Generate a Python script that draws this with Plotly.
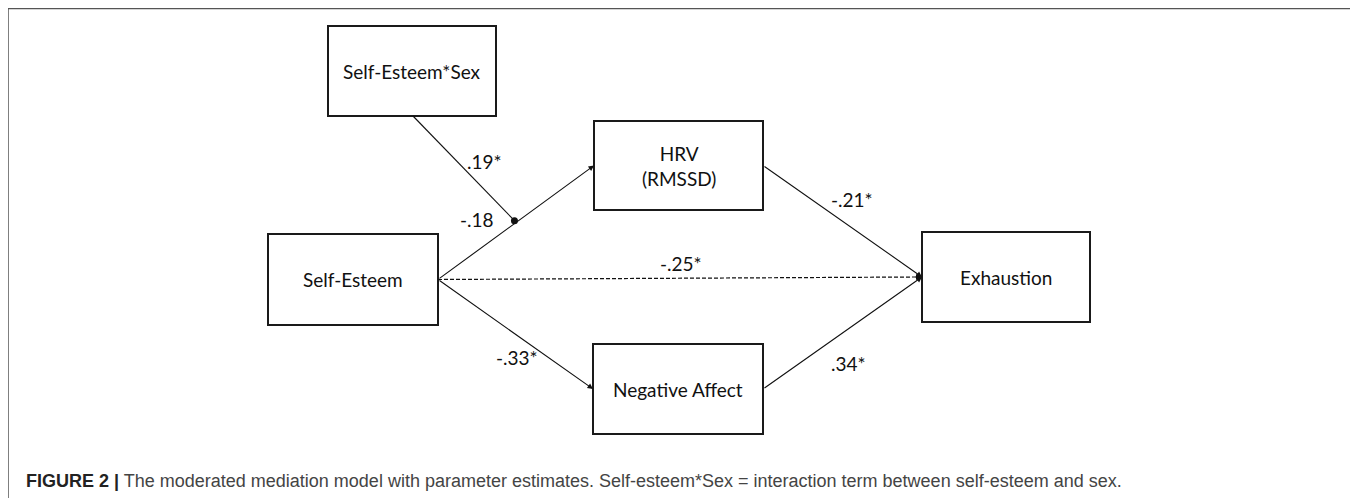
import plotly.graph_objects as go

# ---- data ----
node_ids = ["SES", "SE", "HRV", "NA", "EX"]
node_labels = ["Self-Esteem*Sex", "Self-Esteem", "HRV<br>(RMSSD)", "Negative Affect", "Exhaustion"]
edge_from = ["SE", "SE", "SE", "HRV", "NA"]
edge_to = ["HRV", "NA", "EX", "EX", "EX"]
edge_coef = ["-.18", "-.33*", "-.25*", "-.21*", ".34*"]
edge_dashed = [False, False, True, False, False]
moderator_coef = ".19*"
caption_bold = "FIGURE 2 |"
caption_text = (" The moderated mediation model with parameter estimates. "
                "Self-esteem*Sex = interaction term between self-esteem and sex.")

# ---- layout geometry (pixels of the page) ----
W, H = 1358, 498
OFF = 8  # page body margin
boxes = {
    "SES": (328, 496, 26, 116),
    "SE": (268, 438, 234, 325),
    "HRV": (594, 763, 121, 210),
    "NA": (593, 763, 344, 434),
    "EX": (922, 1090, 232, 322),
}
label_pos = {
    ("SE", "HRV"): (477, 219),
    ("SE", "NA"): (517, 357),
    ("SE", "EX"): (681, 263),
    ("HRV", "EX"): (852, 199),
    ("NA", "EX"): (848, 363),
}
mod_label_pos = (484, 161)
mod_t = 0.49  # where the moderator hits the SE->HRV path

def anchor(nid, side):
    x0, x1, y0, y1 = boxes[nid]
    if side == "right":
        return x1, (y0 + y1) / 2
    if side == "left":
        return x0, (y0 + y1) / 2
    if side == "bottom":
        return (x0 + x1) / 2, y1

shapes = []
annotations = []
box_font = dict(family="Lato, Carlito, Calibri, sans-serif", size=19, color="#111")
coef_font = dict(family="Lato, Carlito, Calibri, sans-serif", size=19, color="#111")

# frame
shapes.append(dict(type="rect", xref="x", yref="y", x0=8, x1=1355, y0=8.5, y1=530,
                   line=dict(color="#555", width=1.5), layer="below"))

for nid, lab in zip(node_ids, node_labels):
    x0, x1, y0, y1 = boxes[nid]
    shapes.append(dict(type="rect", xref="x", yref="y", x0=x0, x1=x1, y0=y0, y1=y1,
                       line=dict(color="#1a1a1a", width=2), fillcolor="white", layer="above"))
    annotations.append(dict(x=(x0 + x1) / 2, y=(y0 + y1) / 2, xref="x", yref="y",
                            text=lab, showarrow=False, font=box_font,
                            xanchor="center", yanchor="middle"))

for f, t, c, d in zip(edge_from, edge_to, edge_coef, edge_dashed):
    sx, sy = anchor(f, "right")
    ex, ey = anchor(t, "left")
    if d:
        shapes.append(dict(type="line", xref="x", yref="y", x0=sx, y0=sy, x1=ex - 6, y1=ey,
                           line=dict(color="#111", width=1.2, dash="4px,2px")))
        annotations.append(dict(x=ex, y=ey, ax=ex - 8, ay=ey, xref="x", yref="y",
                                axref="x", ayref="y", text="", showarrow=True,
                                arrowhead=2, arrowsize=1, arrowwidth=1.2, arrowcolor="#111",
                                standoff=0, startstandoff=0))
    else:
        annotations.append(dict(x=ex, y=ey, ax=sx, ay=sy, xref="x", yref="y",
                                axref="x", ayref="y", text="", showarrow=True,
                                arrowhead=2, arrowsize=1, arrowwidth=1.1, arrowcolor="#111",
                                standoff=0, startstandoff=0))
    lx, ly = label_pos[(f, t)]
    annotations.append(dict(x=lx, y=ly, xref="x", yref="y", text=c, showarrow=False,
                            font=coef_font, xanchor="center", yanchor="middle"))

# moderator path
hx0, hy0 = anchor("SE", "right")
hx1, hy1 = anchor("HRV", "left")
dx = hx0 + (hx1 - hx0) * mod_t
dy = hy0 + (hy1 - hy0) * mod_t - 3
mx, my = 413, boxes["SES"][3]
shapes.append(dict(type="line", xref="x", yref="y", x0=mx, y0=my, x1=dx, y1=dy,
                   line=dict(color="#111", width=1.1)))
shapes.append(dict(type="circle", xref="x", yref="y", x0=dx - 3.5, x1=dx + 3.5,
                   y0=dy - 3.5, y1=dy + 3.5, fillcolor="#111", line=dict(color="#111", width=0)))
annotations.append(dict(x=mod_label_pos[0], y=mod_label_pos[1], xref="x", yref="y",
                        text=moderator_coef, showarrow=False, font=coef_font,
                        xanchor="center", yanchor="middle"))

# caption
annotations.append(dict(x=24, y=481, xref="x", yref="y",
                        text=f"<b>{caption_bold}</b><span style='color:#444'>{caption_text}</span>",
                        showarrow=False, xanchor="left", yanchor="middle",
                        font=dict(family="Liberation Sans, Arial, sans-serif",
                                  size=18, color="#222")))

fig = go.Figure()
fig.add_trace(go.Scatter(x=[OFF + 1], y=[OFF + 1], mode="markers", marker=dict(opacity=0),
                         hoverinfo="skip", showlegend=False))
fig.update_layout(
    width=W, height=H, margin=dict(l=0, r=0, t=0, b=0),
    paper_bgcolor="white", plot_bgcolor="white",
    xaxis=dict(range=[OFF, W + OFF], visible=False, fixedrange=True),
    yaxis=dict(range=[H + OFF, OFF], visible=False, fixedrange=True),
    shapes=shapes, annotations=annotations, showlegend=False,
)
fig.write_html("out.html", config={"displayModeBar": False})
